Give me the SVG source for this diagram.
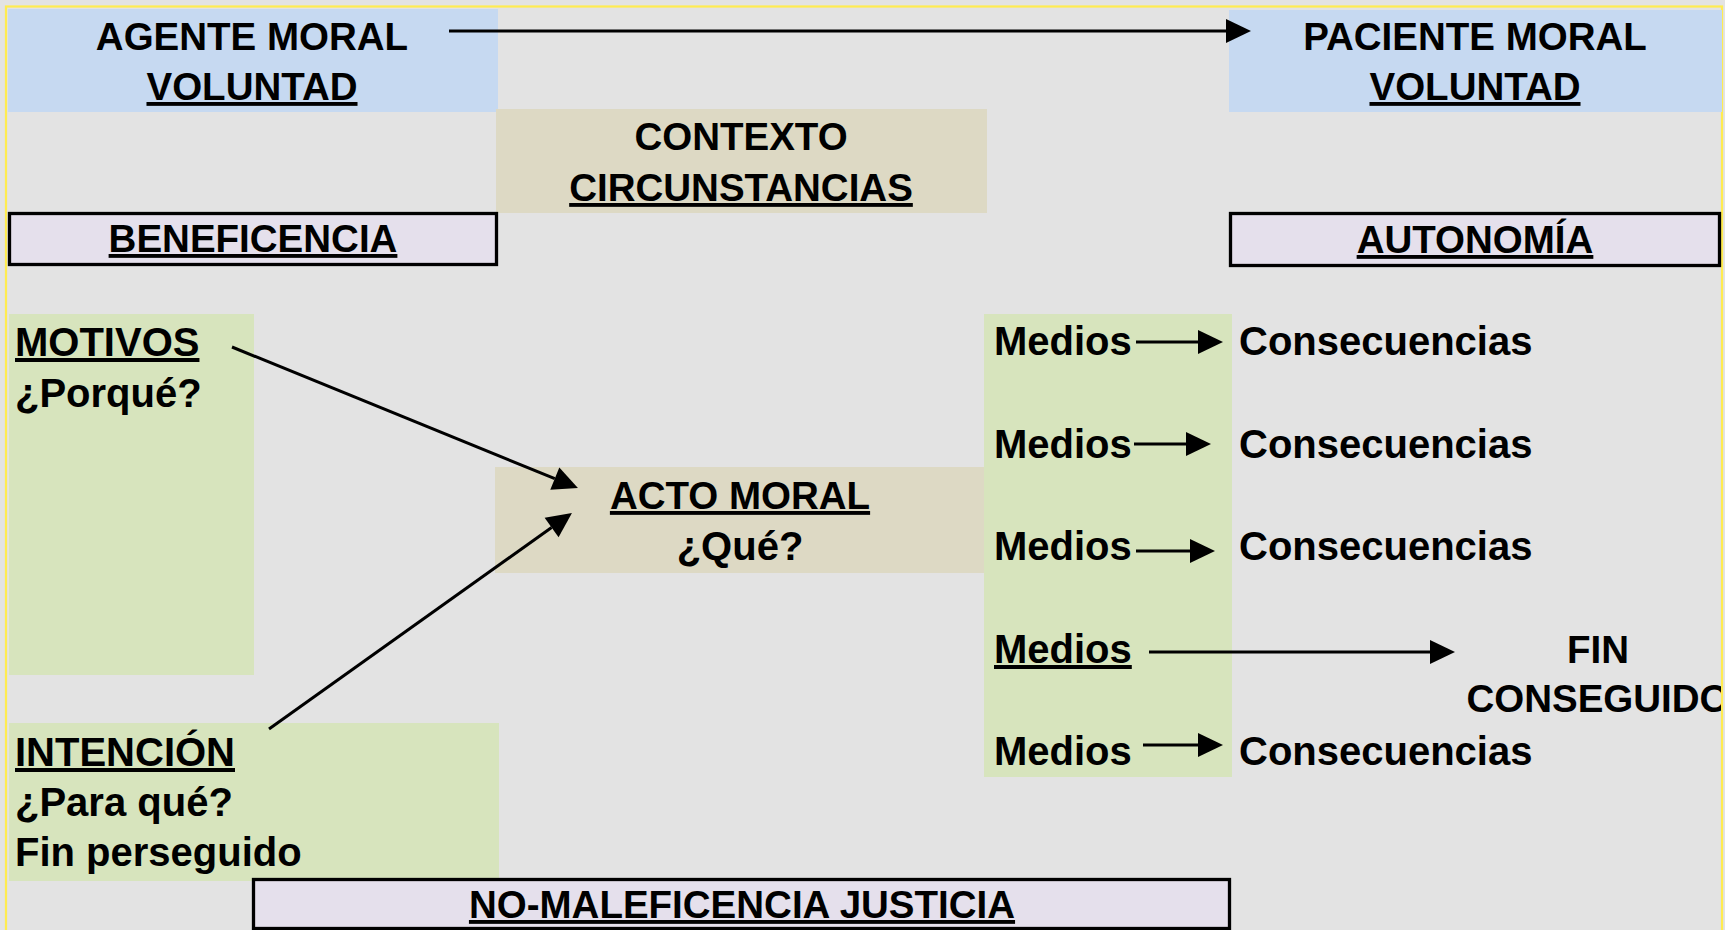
<svg xmlns="http://www.w3.org/2000/svg" width="1725" height="930" viewBox="0 0 1725 930">
<style>
text{font-family:"Liberation Sans",Arial,sans-serif;font-weight:bold;fill:#000}
.h{font-size:38.5px}
.t{font-size:40px}
.c{text-anchor:middle}
.u{text-decoration:underline}
.blue{fill:#c6d9f1}
.tan{fill:#ddd9c4}
.green{fill:#d7e4bd}
.lav{fill:#e5e0ec;stroke:#000;stroke-width:3.3}
.con{stroke:#000;stroke-width:3;fill:none;marker-end:url(#ah)}
</style>
<defs>
<marker id="ah" markerUnits="userSpaceOnUse" markerWidth="26" markerHeight="24" refX="0" refY="12" orient="auto" overflow="visible">
<path d="M0,0 L25,12 L0,24 z" fill="#000"/>
</marker>
<clipPath id="frameclip"><rect x="0" y="0" width="1721" height="930"/></clipPath>
</defs>
<rect x="0" y="0" width="1725" height="930" fill="#e3e3e3"/>
<rect x="6" y="6.5" width="1716" height="1000" fill="none" stroke="#ffec50" stroke-width="2.2"/>

<g id="agente">
<rect class="blue" x="8" y="9" width="490" height="103"/>
<text class="h c" x="252" y="49.5">AGENTE MORAL</text>
<text class="h c u" x="252" y="100">VOLUNTAD</text>
</g>
<g id="paciente">
<rect class="blue" x="1229" y="10" width="493" height="102"/>
<text class="h c" x="1475" y="49.5">PACIENTE MORAL</text>
<text class="h c u" x="1475" y="100">VOLUNTAD</text>
</g>
<g id="contexto">
<rect class="tan" x="496" y="109" width="491" height="104"/>
<text class="h c" x="741" y="150">CONTEXTO</text>
<text class="h c u" x="741" y="201">CIRCUNSTANCIAS</text>
</g>
<g id="beneficencia">
<rect class="lav" x="9.5" y="213.5" width="487" height="51"/>
<text class="h c u" x="253" y="252">BENEFICENCIA</text>
</g>
<g id="autonomia">
<rect class="lav" x="1230.5" y="213.5" width="489" height="52"/>
<text class="h c u" x="1475" y="253">AUTONOMÍA</text>
</g>
<g id="motivos">
<rect class="green" x="9" y="314" width="245" height="361"/>
<text class="t u" x="15" y="356">MOTIVOS</text>
<text class="t" x="15" y="407">¿Porqué?</text>
</g>
<g id="intencion">
<rect class="green" x="9" y="723" width="490" height="158"/>
<text class="t u" x="15" y="766">INTENCIÓN</text>
<text class="t" x="15" y="816">¿Para qué?</text>
<text class="t" x="15" y="866">Fin perseguido</text>
</g>
<g id="acto">
<rect class="tan" x="495" y="467" width="489" height="106"/>
<text class="h c u" x="740" y="509">ACTO MORAL</text>
<text class="t c" x="740" y="560">¿Qué?</text>
</g>
<g id="medios">
<rect class="green" x="984" y="314" width="248" height="463"/>
<text class="t" x="994" y="355">Medios</text>
<text class="t" x="994" y="458">Medios</text>
<text class="t" x="994" y="560">Medios</text>
<text class="t u" x="994" y="663">Medios</text>
<text class="t" x="994" y="765">Medios</text>
</g>
<g id="consecuencias">
<text class="t" x="1239" y="355">Consecuencias</text>
<text class="t" x="1239" y="458">Consecuencias</text>
<text class="t" x="1239" y="560">Consecuencias</text>
<text class="t" x="1239" y="765">Consecuencias</text>
</g>
<g id="fin" clip-path="url(#frameclip)">
<text class="h c" x="1598" y="663">FIN</text>
<text class="h c" x="1598" y="712">CONSEGUIDO</text>
</g>
<g id="nomaleficencia">
<rect class="lav" x="253.5" y="879.5" width="976" height="49"/>
<text class="h c u" x="742" y="918">NO-MALEFICENCIA JUSTICIA</text>
</g>

<g id="connectors">
<line class="con" x1="449" y1="31" x2="1226" y2="31"/>
<line class="con" x1="232" y1="347" x2="554.8" y2="478.6"/>
<line class="con" x1="269" y1="729" x2="551.6" y2="527.5"/>
<line class="con" x1="1136" y1="342" x2="1198" y2="342"/>
<line class="con" x1="1134" y1="444" x2="1186" y2="444"/>
<line class="con" x1="1136" y1="551" x2="1190" y2="551"/>
<line class="con" x1="1149" y1="652" x2="1430" y2="652"/>
<line class="con" x1="1143" y1="745" x2="1198" y2="745"/>
</g>
</svg>
